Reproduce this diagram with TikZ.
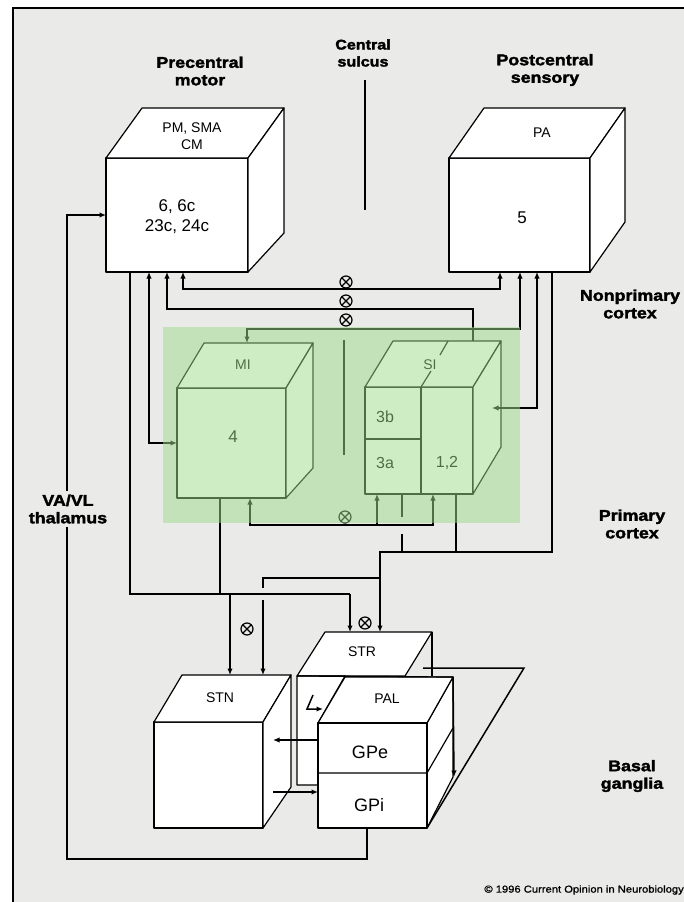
\documentclass[tikz,border=0pt]{standalone}
\usepackage{fontspec}
\setmainfont{Liberation Sans}
\newfontfamily\heavyfont[FakeStretch=1.15,FakeBold=2.2]{Liberation Sans}
\newfontfamily\copyfont[FakeStretch=1.12,FakeBold=1.2]{Liberation Sans}
\usetikzlibrary{arrows.meta}
\definecolor{bgcol}{RGB}{234,234,232}
\definecolor{greenov}{RGB}{160,220,140}
\tikzset{
  conn/.style={line width=1.5pt, draw=black, line join=miter},
  arr/.style={conn, -{Latex[length=6.5pt,width=5.5pt]}},
  dbl/.style={conn, {Latex[length=6.5pt,width=5.5pt]}-{Latex[length=6.5pt,width=5.5pt]}},
  boxline/.style={line width=1.2pt, fill=white, draw=black, line join=round},
  eraser/.style={draw=bgcol, line width=4pt},
  heavy/.style={font={\heavyfont\bfseries\fontsize{15.5}{17.5}\selectfont}, align=center, inner sep=0pt},
  lab/.style={font={\fontsize{14}{17}\selectfont}, align=center, inner sep=0pt},
  big/.style={font={\fontsize{17}{20}\selectfont}, align=center, inner sep=0pt},
  otm/.style={circle, draw=black, line width=1.2pt, fill=bgcol, minimum size=12pt, inner sep=0pt,
    path picture={\draw[line width=1.1pt] (path picture bounding box.south west) -- (path picture bounding box.north east)
      (path picture bounding box.north west) -- (path picture bounding box.south east);}},
}
\newcommand{\mycube}[8]{%
  \filldraw[boxline] (#2,#3) rectangle (#4,#5);
  \filldraw[boxline] (#2,#3) -- ({#2+#6},{#3-#7}) -- ({#4+#6},{#3-#7}) -- (#4,#3) -- cycle;
  \filldraw[boxline] (#4,#3) -- ({#4+#6},{#3-#7}) -- ({#4+#6},{#5-#8}) -- (#4,#5) -- cycle;
  \coordinate (#1) at ({(#2+#4)/2},{(#3+#5)/2});
}
\begin{document}
\begin{tikzpicture}[x=1pt,y=-1pt]
\useasboundingbox (0,0) rectangle (684,902);
\fill[white] (0,0) rectangle (684,902);
\fill[bgcol] (13,8) rectangle (684,902);
\draw[line width=1.6pt] (13,902) -- (13,8) -- (684,8);

% ---- boxes
\mycube{motor}{106}{158}{248}{272}{36}{50}{39}
\mycube{pa}{449}{158}{590}{272}{35}{50}{50}
\mycube{mi}{177}{388}{286}{498}{27}{45}{30}
\mycube{si}{365}{387}{473}{494}{28}{46}{47}
\draw[boxline, fill=none] (421,387) -- (421,494) (365,439) -- (421,439);
\draw[boxline, fill=none] (421,387) -- (431,371) (440,355) -- (448,341);
\mycube{stn}{154}{722}{263}{828}{28}{47}{41}

% STR
\filldraw[boxline] (297,676) -- (325,632) -- (432,632) -- (405,676) -- cycle;
\filldraw[boxline] (297,676) -- (345,676) -- (318,723) -- (318,785) -- (297,785) -- cycle;
\draw[boxline, fill=none] (432,632) -- (432,676);
\draw[conn] (423,668) -- (524,668) -- (427,828);
% PAL
\filldraw[boxline] (427,723) -- (453,677) -- (453,777) -- (427,828) -- cycle;
\filldraw[boxline] (318,723) -- (345,677) -- (453,677) -- (427,723) -- cycle;
\filldraw[boxline] (318,723) rectangle (427,828);
\draw[boxline, fill=none] (318,773) -- (427,773) (427,773) -- (453,728);
\draw[boxline, fill=none] (297,676) -- (453,677);
\coordinate (pal) at (372,748);
\coordinate (str) at (362,652);

% ---- central sulcus
\coordinate (cs1) at (365,80); \coordinate (cs2) at (365,210);
\coordinate (cs3) at (344,340); \coordinate (cs4) at (344,455);
\draw[conn] (cs1) -- (cs2);
\draw[conn] (cs3) -- (cs4);

% ---- named end points
\coordinate (mo1) at (130,272); \coordinate (mo2) at (149,272);
\coordinate (mo3) at (167,272); \coordinate (mo4) at (183,272);
\coordinate (motin) at (106,215);
\coordinate (pa1) at (500,272); \coordinate (pa2) at (520,272);
\coordinate (pa3) at (537,272); \coordinate (pa4) at (552,272);
\coordinate (mitop) at (247,343); \coordinate (mileft) at (177,443);
\coordinate (mib1) at (220,498); \coordinate (mib2) at (250,498);
\coordinate (sitop) at (473,341); \coordinate (siright) at (492,408);
\coordinate (sib1) at (377,494); \coordinate (sib2) at (402,494);
\coordinate (sib3) at (433,494); \coordinate (sib4) at (456,494);
\coordinate (stn1) at (230,675); \coordinate (stn2) at (263,675);
\coordinate (str1) at (350,632); \coordinate (str2) at (380,632);
\coordinate (gpi) at (367,828);
\coordinate (gpeL) at (318,740); \coordinate (stnR1) at (273,740);
\coordinate (stnR2) at (273,792); \coordinate (gpiL) at (318,792);

% ---- cortico-cortical
\draw[dbl] (mo4) -- (183,289) -- (500,289) -- (pa1);
\draw[arr] (sitop) -- (473,309) -- (167,309) -- (mo3);
\draw[dbl] (pa2) -- (520,329) -- (247,329) -- (mitop);
\draw[dbl] (mo2) -- (149,443) -- (mileft);
\draw[dbl] (pa3) -- (537,408) -- (siright);

% SI/MI bottom
\draw[conn] (sib2) -- (402,552);
\draw[eraser] (402,517) -- (402,534);
\draw[dbl] (mib2) -- (250,525) -- (433,525) -- (sib3);
\draw[arr] (377,525) -- (sib1);

% ---- PA / SI to STR, STN
\draw[conn] (pa4) -- (552,552) -- (380,552);
\draw[conn] (sib4) -- (456,552);
\draw[arr] (552,552) -- (380,552) -- (str2);
\draw[arr] (380,578) -- (263,578) -- (stn2);
\draw[eraser] (263,588) -- (263,600);

% ---- motor / MI to STR, STN
\draw[conn] (mo1) -- (130,594) -- (350,594);
\draw[conn] (mib1) -- (220,594);
\draw[arr] (350,594) -- (str1);
\draw[arr] (230,594) -- (stn1);

% ---- basal ganglia internal
\draw[arr] (gpeL) -- (stnR1);
\draw[arr] (stnR2) -- (gpiL);
\draw[arr] (313,695) -- (307,709) -- (323,709);
\draw[arr] (453,677) -- (454,777);

% ---- thalamus loop
\draw[arr] (gpi) -- (367,859) -- (67,859) -- (67,215) -- (motin);

% ---- crossed markers
\node[otm] (x1) at (346,282) {};
\node[otm] (x2) at (346,301) {};
\node[otm] (x3) at (346,320) {};
\node[otm] (x4) at (345,517) {};
\node[otm] (x5) at (247,629) {};
\node[otm] (x6) at (365,623) {};

% ---- labels
\node[heavy] (lprec) at (200,71) {Precentral\\motor};
\node[heavy, font={\heavyfont\bfseries\fontsize{14}{17}\selectfont}] (lcs) at (363,53) {Central\\sulcus};
\node[heavy] (lpost) at (545,70) {Postcentral\\sensory};
\node[heavy] (lnon) at (630,304) {Nonprimary\\cortex};
\node[heavy] (lprim) at (632,524) {Primary\\cortex};
\node[heavy] (lbas) at (632,776) {Basal\\ganglia};
\node[heavy, fill=bgcol, inner ysep=4pt, inner xsep=1pt] (lth) at (68,509) {VA/VL\\thalamus};

\node[lab] (t1) at (192,136) {PM, SMA\\CM};
\node[big] (t2) at (177,217) {6, 6c\\23c, 24c};
\node[lab] (t3) at (542,133) {PA};
\node[big] (t4) at (522,218) {5};
\node[lab] (t5) at (243,365) {MI};
\node[big] (t6) at (233,437) {4};
\node[lab] (t7) at (430,365) {SI};
\node[big, font={\fontsize{16}{18}\selectfont}] (t8) at (385,417) {3b};
\node[big, font={\fontsize{16}{18}\selectfont}] (t9) at (385,463) {3a};
\node[big, font={\fontsize{16}{18}\selectfont}] (t10) at (447,463) {1,2};
\node[lab] (t11) at (220,698) {STN};
\node[lab] (t12) at (362,652) {STR};
\node[lab] (t13) at (387,699) {PAL};
\node[big, font={\fontsize{18}{20}\selectfont}] (t14) at (370,752) {GPe};
\node[big, font={\fontsize{18}{20}\selectfont}] (t15) at (369,805) {GPi};
\node[anchor=east, inner sep=0pt, font={\copyfont\fontsize{10}{12}\selectfont}] (cpy) at (684,890) {© 1996 Current Opinion in Neurobiology};

% ---- green overlay (primary cortex)
\fill[greenov, fill opacity=0.5] (163,327) rectangle (520,523);
\end{tikzpicture}
\end{document}
